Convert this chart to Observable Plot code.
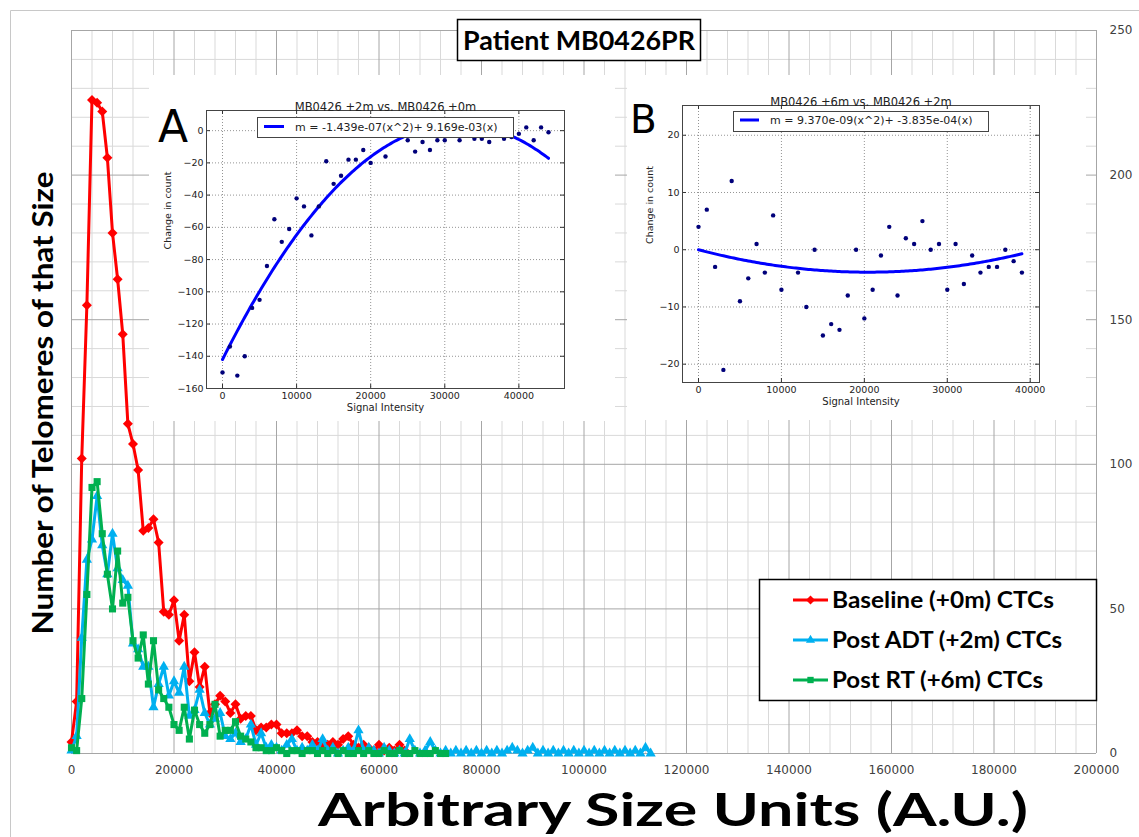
<!DOCTYPE html>
<html><head><meta charset="utf-8">
<script src="https://cdn.jsdelivr.net/npm/d3@7"></script>
<script src="https://cdn.jsdelivr.net/npm/@observablehq/plot@0.6"></script>
<style>
body{margin:0;background:#fff;}
#wrap{position:relative;width:1139px;height:837px;overflow:hidden;background:#fff;}
#wrap > *{position:absolute;}
</style></head><body><div id="wrap"></div>
<script>
// ---------- main chart data (counts per 1000 A.U. bin) ----------
const binSize = 1000;
const baselineCounts = [4,18,102,155,226,225,222,206,180,164,145,114,107,98,77,78,81,73,49,48,53,39,48,25,35,23,30,14,17,20,18,14,17,12,13,13,8,9,9,10,10,7,7,7,8,6,6,4,4,3,3,4,3,5,6,3,2,3,2,1,3,1,2,1,3,1];
const postAdtCounts = [1,6,40,67,74,89,72,62,76,64,60,58,38,36,30,30,16,24,30,20,25,21,30,13,15,22,14,10,12,14,6,5,7,4,5,10,3,7,2,3,2,1,3,5,1,2,1,3,1,5,1,2,0,1,2,1,8,1,2,1,0,2,1,0,1,0,5,1,0,1,4,1,0,1,0,1,0,1,0,1,0,1,0,1,0,1,2,1,0,1,2,0,1,0,1,0,1,0,1,0,1,0,1,0,1,0,1,0,1,0,1,0,2,0];
const postRtCounts = [2,1,19,55,92,94,76,62,50,70,52,54,39,33,41,24,39,22,19,16,10,8,16,5,15,10,7,10,17,6,8,8,11,6,5,4,2,2,1,1,2,1,0,1,1,0,1,1,0,1,0,1,0,1,0,0,1,0,1,0,0,1,0,0,1,0,0,1,0,0,0,1,0,0];
const seriesNames = ["Baseline (+0m) CTCs","Post ADT (+2m) CTCs","Post RT (+6m) CTCs"];
const seriesColors = ["#ff0000","#00b0f0","#00b050"];
const seriesSymbols = ["diamond2","triangle","square"];
const seriesRadius = [4.5,3.8,4];
const xTicks = [0,20000,40000,60000,80000,100000,120000,140000,160000,180000,200000];
const yTicks = [0,50,100,150,200,250];
const chartTitle = "Patient MB0426PR";
const xTitle = "Arbitrary Size Units (A.U.)";
const yTitle = "Number of Telomeres of that Size";

// ---------- inset A data ----------
const insetATitle = "MB0426 +2m vs. MB0426 +0m";
const insetAX = [0,1000,2000,3000,4000,5000,6000,7000,8000,9000,10000,11000,12000,13000,14000,15000,16000,17000,18000,19000,20000,22000,25000,26000,27000,28000,29000,30000,32000,34000,35000,36000,38000,39000,40000,41000,42000,43000,44000];
const insetAY = [-150,-134,-152,-140,-110,-105,-84,-55,-69,-61,-42,-47,-65,-47,-19,-33,-28,-18,-18,-12,-20,-16,-6,-13,-7,-12,-6,-6,-6,-5,-5,-7,-5,-4,-2,2,-6,2,-1];
const insetACoef = [-1.439e-07, 9.169e-03, -142];
const insetALegend = "m = -1.439e-07(x^2)+ 9.169e-03(x)";
const insetATicksX = [0,10000,20000,30000,40000];
const insetATicksY = [-160,-140,-120,-100,-80,-60,-40,-20,0];

// ---------- inset B data ----------
const insetBTitle = "MB0426 +6m vs. MB0426 +2m";
const insetBX = [0,1000,2000,3000,4000,5000,6000,7000,8000,9000,10000,12000,13000,14000,15000,16000,17000,18000,19000,20000,21000,22000,23000,24000,25000,26000,27000,28000,29000,30000,31000,32000,33000,34000,35000,36000,37000,38000,39000];
const insetBY = [4,7,-3,-21,12,-9,-5,1,-4,6,-7,-4,-10,0,-15,-13,-14,-8,0,-12,-7,-1,4,-8,2,1,5,0,1,-7,1,-6,-1,-4,-3,-3,0,-2,-4];
const insetBCoef = [9.370e-09, -3.835e-04, 0];
const insetBLegend = "m = 9.370e-09(x^2)+ -3.835e-04(x)";
const insetBTicksX = [0,10000,20000,30000,40000];
const insetBTicksY = [-20,-10,0,10,20];

const wrap = document.getElementById("wrap");

// ---------- main chart ----------
const allCounts = [baselineCounts, postAdtCounts, postRtCounts];
const seriesRows = allCounts.map(c => c.map((v, i) => ({x: i * binSize, y: v})));
const minorX = d3.range(0, 200001, 4000).filter(v => v % 20000 !== 0);
const minorY = d3.range(0, 251, 10).filter(v => v % 50 !== 0);

const seriesMarks = [];
seriesRows.forEach((rows, s) => {
  seriesMarks.push(Plot.line(rows, {x: "x", y: "y", stroke: seriesColors[s], strokeWidth: 3}));
  seriesMarks.push(Plot.dot(rows, {x: "x", y: "y", symbol: seriesSymbols[s], r: seriesRadius[s], fill: seriesColors[s], stroke: "none"}));
});

const main = Plot.plot({
  width: 1139, height: 837,
  marginLeft: 71, marginRight: 43, marginTop: 30, marginBottom: 84,
  x: {domain: [0, 200000], label: null},
  y: {domain: [0, 250], label: null},
  style: {fontFamily: "DejaVu Sans, sans-serif", fontSize: "12px", background: "transparent", overflow: "visible"},
  marks: [
    Plot.gridX(minorX, {stroke: "#d9d9d9", strokeOpacity: 1}),
    Plot.gridY(minorY, {stroke: "#d9d9d9", strokeOpacity: 1}),
    Plot.gridX(xTicks, {stroke: "#a6a6a6", strokeOpacity: 1}),
    Plot.gridY(yTicks, {stroke: "#a6a6a6", strokeOpacity: 1}),
    Plot.axisX(xTicks, {tickSize: 0, tickPadding: 12, tickFormat: d => String(d), label: null, color: "#404040"}),
    Plot.axisY(yTicks, {anchor: "right", tickSize: 0, tickPadding: 13, tickFormat: d => String(d), label: null, color: "#404040"}),
    ...seriesMarks
  ]
});
main.style.left = "0px"; main.style.top = "0px";
wrap.appendChild(main);

// ---------- insets ----------
function makeInset(cfg) {
  const pts = cfg.xs.map((x, i) => ({x, y: cfg.ys[i]}));
  const xMax = d3.max(cfg.xs);
  const fit = d3.range(0, xMax + 1, 250).map(x => ({x, y: cfg.coef[0] * x * x + cfg.coef[1] * x + cfg.coef[2]}));
  const fh = cfg.h - cfg.mt - cfg.mb, fw = cfg.w - cfg.ml - cfg.mr;
  const fmt = d => d < 0 ? "\u2212" + (-d) : String(d);
  const el = Plot.plot({
    width: cfg.w, height: cfg.h,
    marginLeft: cfg.ml, marginRight: cfg.mr, marginTop: cfg.mt, marginBottom: cfg.mb,
    x: {domain: cfg.dx, label: null},
    y: {domain: cfg.dy, label: null},
    style: {fontFamily: "DejaVu Sans, sans-serif", fontSize: "9.5px", background: "#fff", color: "#222"},
    marks: [
      Plot.gridX(cfg.tx, {stroke: "#666", strokeOpacity: 0.7, strokeDasharray: "1,2"}),
      Plot.gridY(cfg.ty, {stroke: "#666", strokeOpacity: 0.7, strokeDasharray: "1,2"}),
      Plot.ruleX(cfg.tx, {x: d => d, insetTop: fh - 4, stroke: "#333"}),
      Plot.ruleX(cfg.tx, {x: d => d, insetBottom: fh - 4, stroke: "#333"}),
      Plot.ruleY(cfg.ty, {y: d => d, insetRight: fw - 4, stroke: "#333"}),
      Plot.ruleY(cfg.ty, {y: d => d, insetLeft: fw - 4, stroke: "#333"}),
      Plot.axisX(cfg.tx, {tickSize: 0, tickPadding: 4, tickFormat: fmt, label: null}),
      Plot.axisY(cfg.ty, {tickSize: 0, tickPadding: 3, tickFormat: fmt, label: null}),
      Plot.line(fit, {x: "x", y: "y", stroke: "#0000ff", strokeWidth: 3}),
      Plot.dot(pts, {x: "x", y: "y", r: 2.2, fill: "#00007a", stroke: "none"}),
      Plot.frame({stroke: "#444"}),
      Plot.text([cfg.title], {text: d => d, frameAnchor: "top", dy: cfg.titleDy, fontSize: 11.5}),
      Plot.text(["Signal Intensity"], {text: d => d, frameAnchor: "bottom", dy: cfg.xlabDy, fontSize: 10}),
      Plot.text(["Change in count"], {text: d => d, frameAnchor: "left", dx: cfg.ylabDx, rotate: -90, fontSize: 9.5})
    ]
  });
  el.style.left = cfg.left + "px"; el.style.top = cfg.top + "px";
  wrap.appendChild(el);
}

makeInset({xs: insetAX, ys: insetAY, coef: insetACoef, title: insetATitle,
  tx: insetATicksX, ty: insetATicksY, dx: [-2160, 46160], dy: [-160, 12.5],
  left: 149, top: 75, w: 466, h: 346, ml: 57, mr: 51, mt: 35, mb: 33,
  titleDy: -8, xlabDy: 22, ylabDx: -39});

makeInset({xs: insetBX, ys: insetBY, coef: insetBCoef, title: insetBTitle,
  tx: insetBTicksX, ty: insetBTicksY, dx: [-1930, 41120], dy: [-23.2, 25.2],
  left: 627, top: 75, w: 459, h: 345, ml: 55, mr: 47, mt: 30, mb: 38,
  titleDy: -8, xlabDy: 22, ylabDx: -33});

// ---------- overlay: titles, legends, panel letters ----------
const ov = d3.select(wrap).append("svg").attr("width", 1139).attr("height", 837)
  .style("left", "0px").style("top", "0px").style("pointer-events", "none");

ov.append("path").attr("d", "M10.5,837V10.5H1139").attr("fill", "none").attr("stroke", "#c8c8c8");

// chart title box
ov.append("rect").attr("x", 457.5).attr("y", 19.5).attr("width", 243).attr("height", 41)
  .attr("fill", "#fff").attr("stroke", "#000").attr("stroke-width", 1.5);
ov.append("text").attr("x", 579).attr("y", 50).attr("text-anchor", "middle")
  .attr("font-family", "Lato, sans-serif").attr("font-weight", 700).attr("font-size", 26)
  .attr("textLength", 232).attr("lengthAdjust", "spacingAndGlyphs").text(chartTitle);

// axis titles
ov.append("text").attr("x", 673).attr("y", 826).attr("text-anchor", "middle")
  .attr("font-family", "Lato, sans-serif").attr("font-weight", 700).attr("font-size", 46)
  .attr("textLength", 710).attr("lengthAdjust", "spacingAndGlyphs").text(xTitle);
ov.append("text").attr("transform", "translate(53,403) rotate(-90)").attr("text-anchor", "middle")
  .attr("font-family", "Lato, sans-serif").attr("font-weight", 700).attr("font-size", 29)
  .attr("textLength", 463).attr("lengthAdjust", "spacingAndGlyphs").text(yTitle);

// series legend
ov.append("rect").attr("x", 759.5).attr("y", 579.5).attr("width", 337).attr("height", 121)
  .attr("fill", "#fff").attr("stroke", "#000").attr("stroke-width", 1.5);
const symMap = {diamond2: d3.symbolDiamond2, triangle: d3.symbolTriangle, square: d3.symbolSquare};
const legendTextWidths = [222, 230, 211];
seriesNames.forEach((name, s) => {
  const cy = 600 + s * 40;
  ov.append("line").attr("x1", 793).attr("x2", 828).attr("y1", cy).attr("y2", cy)
    .attr("stroke", seriesColors[s]).attr("stroke-width", 3);
  ov.append("path").attr("transform", `translate(810.5,${cy})`)
    .attr("d", d3.symbol(symMap[seriesSymbols[s]], Math.PI * seriesRadius[s] * seriesRadius[s] * 0.8)())
    .attr("fill", seriesColors[s]);
  ov.append("text").attr("x", 832).attr("y", cy + 8)
    .attr("font-family", "Lato, sans-serif").attr("font-weight", 700).attr("font-size", 22)
    .attr("textLength", legendTextWidths[s]).attr("lengthAdjust", "spacingAndGlyphs").text(name);
});

// inset legends
function insetLegend(x, y, w, h, lx1, lx2, ly, tx, label) {
  ov.append("rect").attr("x", x + 0.5).attr("y", y + 0.5).attr("width", w).attr("height", h)
    .attr("fill", "#fff").attr("stroke", "#444").attr("stroke-width", 1);
  ov.append("line").attr("x1", lx1).attr("x2", lx2).attr("y1", ly).attr("y2", ly)
    .attr("stroke", "#0000ff").attr("stroke-width", 3);
  ov.append("text").attr("x", tx).attr("y", ly + 4)
    .attr("font-family", "DejaVu Sans, sans-serif").attr("font-size", 11).attr("fill", "#222").text(label);
}
insetLegend(257, 117, 256, 20, 264, 284, 126.5, 295, insetALegend);
insetLegend(733, 111, 255, 20, 740, 759, 120, 770, insetBLegend);

// panel letters
ov.append("text").attr("x", 158).attr("y", 142).attr("font-family", "DejaVu Sans, sans-serif").attr("font-size", 44).text("A");
ov.append("text").attr("x", 630).attr("y", 133).attr("font-family", "DejaVu Sans, sans-serif").attr("font-size", 39).text("B");
</script></body></html>
